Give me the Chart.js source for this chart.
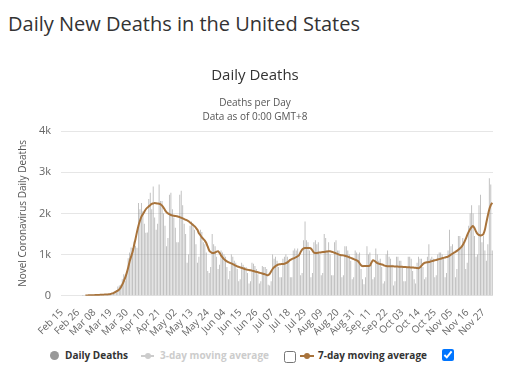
<!DOCTYPE html>
<html>
<head>
<meta charset="utf-8">
<script src="https://cdn.jsdelivr.net/npm/chart.js@4"></script>
<style>
  body { margin: 0; background: #fff; font-family: "Open Sans", sans-serif; }
  #heading { position: absolute; left: 8px; top: 12px; font-size: 20px; line-height: 24px; color: #333; }
  #wrap { position: absolute; left: 0; top: 50px; width: 508px; height: 292px; }
  #legend { position: absolute; left: 0; top: 346px; width: 508px; height: 20px; font-size: 10px; font-weight: bold; }
  #legend span, #legend input, #legend i { position: absolute; }
  .dot { width: 9px; height: 9px; border-radius: 50%; background: #999; top: 5px; }
  .sym { height: 2px; top: 9px; }
  .mk { width: 6px; height: 6px; top: 7px; border-radius: 50%; }
  input[type=checkbox] { margin: 0; width: 12px; height: 12px; }
</style>
</head>
<body>
<div id="heading">Daily New Deaths in the United States</div>
<div id="wrap"><canvas id="deathsChart"></canvas></div>
<div id="legend">
  <i class="dot" style="left:50px"></i>
  <span style="left:65px; top:2px; color:#333">Daily Deaths</span>
  <i class="sym" style="left:141px; width:13px; background:#ccc"></i>
  <i class="mk" style="left:145px; background:#ccc"></i>
  <span style="left:160px; top:2px; color:#ccc">3-day moving average</span>
  <input type="checkbox" style="left:284px; top:5px">
  <i class="sym" style="left:300px; width:14px; background:#a8733b"></i>
  <i class="mk" style="left:304px; background:#a8733b"></i>
  <span style="left:318px; top:2px; color:#333">7-day moving average</span>
  <input type="checkbox" checked style="left:442px; top:3px">
</div>
<script>
const startDate = Date.UTC(2020, 1, 15);
const monthNames = ["Jan", "Feb", "Mar", "Apr", "May", "Jun", "Jul", "Aug", "Sep", "Oct", "Nov", "Dec"];

// daily deaths, Feb 15 .. Dec 3
const dailyDeaths = [
  0, 0, 0, 0, 0, 0, 0, 0, 0, 0, 0, 0, 0, 0, 1,
  1, 5, 1, 4, 1, 2, 3, 4, 4, 3, 7, 10, 9, 11, 10, 23, 24, 40, 54, 47, 73, 113, 141, 225, 247, 268, 400, 525, 363, 558, 912,
  1049, 1172, 1161, 1320, 1212, 1164, 2250, 2100, 2250, 2050, 1750, 1528, 1535, 2350, 2500, 2100, 2650, 1900, 1600, 1750, 2700, 2300, 2300, 2000, 1700, 1200, 1400, 2450, 2500, 2100,
  1900, 1650, 1300, 1300, 2450, 2550, 2200, 1750, 1500, 800, 1000, 1700, 1800, 1750, 1600, 1250, 800, 950, 1600, 1550, 1300, 1250, 1050, 600, 550, 700, 1500, 1250, 1200, 950, 650,
  750, 1100, 1050, 1000, 950, 700, 400, 600, 1000, 950, 850, 800, 650, 350, 400, 800, 750, 700, 700, 550, 300, 350, 800, 780, 720, 650, 520, 300, 350, 720,
  700, 700, 650, 270, 250, 350, 1000, 900, 950, 850, 700, 450, 450, 900, 950, 1000, 950, 850, 450, 450, 1100, 1150, 1100, 1150, 1000, 500, 550, 1350, 1800, 1350, 1300,
  1100, 450, 550, 1300, 1350, 1250, 1300, 1000, 500, 550, 1500, 1400, 1100, 1300, 1000, 500, 500, 1300, 1350, 1100, 1100, 1000, 450, 500, 1200, 1200, 1100, 1000, 850, 400, 450,
  1100, 1050, 1000, 1050, 650, 400, 280, 450, 1200, 1000, 1050, 750, 400, 450, 1150, 1000, 850, 900, 700, 300, 350, 1000, 1100, 950, 900, 750, 250, 350, 950, 950,
  850, 850, 700, 350, 350, 700, 950, 950, 900, 600, 400, 300, 800, 950, 900, 900, 700, 400, 450, 950, 1250, 900, 950, 900, 450, 500, 1000, 1050, 1050, 1000, 900,
  450, 550, 1100, 1600, 1200, 1250, 1000, 450, 650, 1450, 1450, 1200, 1400, 1250, 650, 800, 1700, 2000, 2200, 2000, 1450, 950, 1000, 2200, 2450, 1300, 1450, 1100, 850, 1250,
  2850, 2700, 1100
];

// 7-day moving average as drawn
const avg7 = [
  null, null, null, null, null, null, null, null, null, null, null, null, null, null, null,
  null, 5, 8, 10, 12, 13, 14, 15, 16, 18, 20, 22, 24, 26, 28, 30, 33, 38, 45, 55, 65, 85, 105, 125, 155, 200, 270, 350, 440, 550, 680,
  830, 950, 1060, 1220, 1380, 1550, 1700, 1820, 1920, 1980, 2040, 2100, 2140, 2170, 2200, 2230, 2240, 2250, 2245, 2240, 2235, 2220, 2190, 2140, 2080, 2030, 2000, 1980, 1960, 1950,
  1940, 1935, 1930, 1920, 1910, 1895, 1880, 1860, 1845, 1830, 1810, 1780, 1750, 1720, 1690, 1650, 1600, 1520, 1470, 1420, 1380, 1340, 1280, 1190, 1100, 1060, 1040, 1040, 1050, 1070, 1080,
  1040, 980, 930, 890, 860, 835, 815, 800, 785, 770, 750, 730, 715, 700, 690, 680, 665, 650, 640, 632, 625, 618, 610, 600, 590, 580, 570, 560, 550, 540,
  530, 520, 505, 500, 530, 590, 650, 690, 720, 745, 760, 765, 770, 772, 775, 790, 810, 840, 870, 890, 905, 920, 940, 960, 990, 1060, 1120, 1150, 1160, 1160, 1160,
  1160, 1150, 1100, 1050, 1040, 1040, 1045, 1050, 1055, 1060, 1065, 1070, 1075, 1080, 1078, 1070, 1060, 1045, 1030, 1015, 1000, 990, 985, 980, 970, 960, 950, 935, 920, 905, 890,
  875, 860, 840, 790, 740, 720, 720, 720, 720, 720, 730, 800, 860, 850, 820, 795, 780, 770, 760, 750, 730, 720, 718, 716, 715, 715, 714, 712, 710, 708,
  706, 704, 702, 700, 698, 695, 692, 690, 688, 685, 682, 678, 672, 670, 690, 730, 770, 800, 810, 815, 820, 830, 840, 850, 860, 870, 880, 890, 900, 910, 920,
  930, 940, 950, 975, 1000, 1020, 1045, 1065, 1090, 1115, 1150, 1180, 1230, 1300, 1380, 1470, 1550, 1620, 1670, 1690, 1640, 1560, 1500, 1475, 1465, 1470, 1500, 1600, 1780, 1950,
  2100, 2200, 2260
];

const yTicks = [0, 1000, 2000, 3000, 4000];
const labelEvery = 11;

const dateLabels = dailyDeaths.map((_, i) => {
  const d = new Date(startDate + i * 86400000);
  return monthNames[d.getUTCMonth()] + " " + String(d.getUTCDate()).padStart(2, "0");
});

new Chart(document.getElementById("deathsChart").getContext("2d"), {
  type: "bar",
  data: {
    labels: dateLabels,
    datasets: [
      {
        type: "line",
        label: "7-day moving average",
        data: avg7,
        borderColor: "#a8733b",
        borderWidth: 2,
        pointRadius: 0,
        tension: 0.2,
        spanGaps: false,
        order: 0,
      },
      {
        label: "Daily Deaths",
        data: dailyDeaths,
        backgroundColor: "rgba(140, 140, 140, 0.6)",
        barPercentage: 0.6,
        categoryPercentage: 1,
        order: 1,
      },
    ],
  },
  options: {
    responsive: true,
    maintainAspectRatio: false,
    animation: false,
    layout: { padding: { left: 17, right: 15, top: 0, bottom: 0 } },
    plugins: {
      legend: { display: false },
      tooltip: { enabled: false },
      title: {
        display: true,
        text: "Daily Deaths",
        color: "#333",
        font: { family: "Open Sans", size: 15, weight: "normal" },
        padding: { top: 17, bottom: 11 },
      },
      subtitle: {
        display: true,
        text: ["Deaths per Day", "Data as of 0:00 GMT+8"],
        color: "#555",
        font: { family: "Open Sans", size: 10, lineHeight: 1.4 },
        padding: { bottom: 7 },
      },
    },
    scales: {
      x: {
        grid: { display: false },
        border: { display: false },
        ticks: {
          autoSkip: false,
          maxRotation: 45,
          minRotation: 45,
          color: "#666",
          font: { family: "Open Sans", size: 10 },
          padding: 3,
          callback: function (value, index) {
            return index % labelEvery === 0 ? dateLabels[index] : null;
          },
        },
      },
      y: {
        min: 0,
        max: 4000,
        afterBuildTicks: (axis) => { axis.ticks = yTicks.map((v) => ({ value: v })); },
        border: { display: false },
        grid: { color: "#e6e6e6", drawTicks: false },
        title: {
          display: true,
          text: "Novel Coronavirus Daily Deaths",
          color: "#555",
          font: { family: "Open Sans", size: 10 },
          padding: { top: 0, bottom: 0 },
        },
        ticks: {
          color: "#666",
          font: { family: "Open Sans", size: 11 },
          padding: 10,
          callback: (v) => (v === 0 ? "0" : v / 1000 + "k"),
        },
      },
    },
  },
});
</script>
</body>
</html>
